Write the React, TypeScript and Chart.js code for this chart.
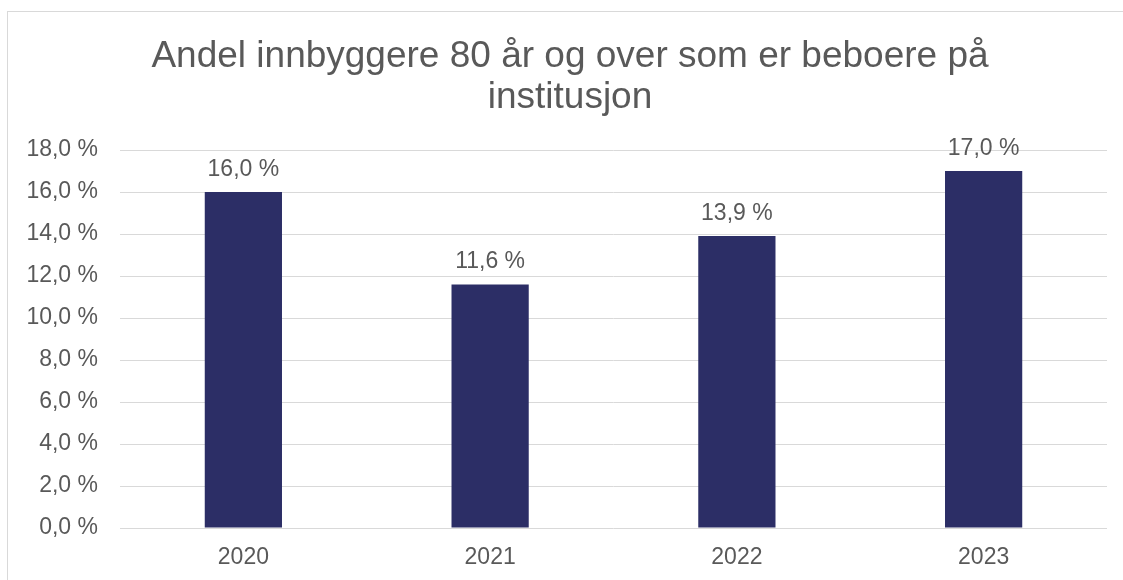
import React, { useEffect, useRef } from "react";
import { Chart, registerables } from "chart.js";

Chart.register(...registerables);

const titleLines = ["Andel innbyggere 80 år og over som er beboere på", "institusjon"];
const categories = ["2020", "2021", "2022", "2023"];
const values = [16.0, 11.6, 13.9, 17.0];
const yMin = 0;
const yMax = 18;
const yStep = 2;

const FONT = "'Liberation Sans', Arial, sans-serif";
const TEXT = "#595959";
const GRID = "#d9d9d9";
const BAR = "#2c2e66";

const fmt = (v: number) => v.toFixed(1).replace(".", ",") + " %";

const borderPlugin = {
  id: "frameBorder",
  beforeDraw(chart: any) {
    const ctx = chart.ctx;
    ctx.save();
    ctx.fillStyle = "#ffffff";
    ctx.fillRect(0, 0, chart.width, chart.height);
    ctx.strokeStyle = GRID;
    ctx.lineWidth = 1;
    ctx.strokeRect(7.5, 11.5, chart.width + 100, chart.height + 100);
    ctx.restore();
  },
};

const titlePlugin = {
  id: "frameTitle",
  afterDraw(chart: any) {
    const ctx = chart.ctx;
    ctx.save();
    ctx.font = `37px ${FONT}`;
    ctx.fillStyle = TEXT;
    ctx.textAlign = "center";
    ctx.textBaseline = "alphabetic";
    const cx = 570;
    titleLines.forEach((line, i) => {
      ctx.fillText(line, cx, 66.5 + i * 41.6);
    });
    ctx.restore();
  },
};

const labelPlugin = {
  id: "barLabels",
  afterDatasetsDraw(chart: any) {
    const ctx = chart.ctx;
    const meta = chart.getDatasetMeta(0);
    ctx.save();
    ctx.font = `23px ${FONT}`;
    ctx.fillStyle = TEXT;
    ctx.textAlign = "center";
    ctx.textBaseline = "alphabetic";
    meta.data.forEach((bar: any, i: number) => {
      ctx.fillText(fmt(values[i]), bar.x, bar.y - 16);
    });
    ctx.restore();
  },
};

export default function App() {
  const ref = useRef<HTMLCanvasElement>(null);
  useEffect(() => {
    if (!ref.current) return;
    const chart = new Chart(ref.current, {
      type: "bar",
      data: {
        labels: categories,
        datasets: [
          {
            data: values,
            backgroundColor: BAR,
            borderWidth: 0,
            categoryPercentage: 1,
            barPercentage: 0.313,
          },
        ],
      },
      options: {
        responsive: false,
        animation: false,
        layout: { padding: { left: 0, right: 16, top: 150, bottom: 0 } },
        plugins: {
          legend: { display: false },
          tooltip: { enabled: false },
          title: { display: false },
        },
        scales: {
          x: {
            grid: { display: false, drawTicks: false },
            border: { display: false },
            ticks: { color: TEXT, font: { family: FONT, size: 23 }, padding: 16 },
            afterFit: (s: any) => {
              s.height = 52;
            },
          },
          y: {
            min: yMin,
            max: yMax,
            grid: { color: GRID, lineWidth: 1, drawTicks: false },
            border: { display: false },
            ticks: {
              stepSize: yStep,
              color: TEXT,
              font: { family: FONT, size: 23 },
              padding: 22,
              callback: (v: any) => fmt(Number(v)),
            },
            afterFit: (s: any) => {
              s.width = 120;
            },
          },
        },
      },
      plugins: [borderPlugin, titlePlugin, labelPlugin],
    });
    return () => chart.destroy();
  }, []);
  return (
    <canvas
      ref={ref}
      width={1123}
      height={580}
      style={{ position: "fixed", left: 0, top: 0, width: 1123, height: 580 }}
    />
  );
}
